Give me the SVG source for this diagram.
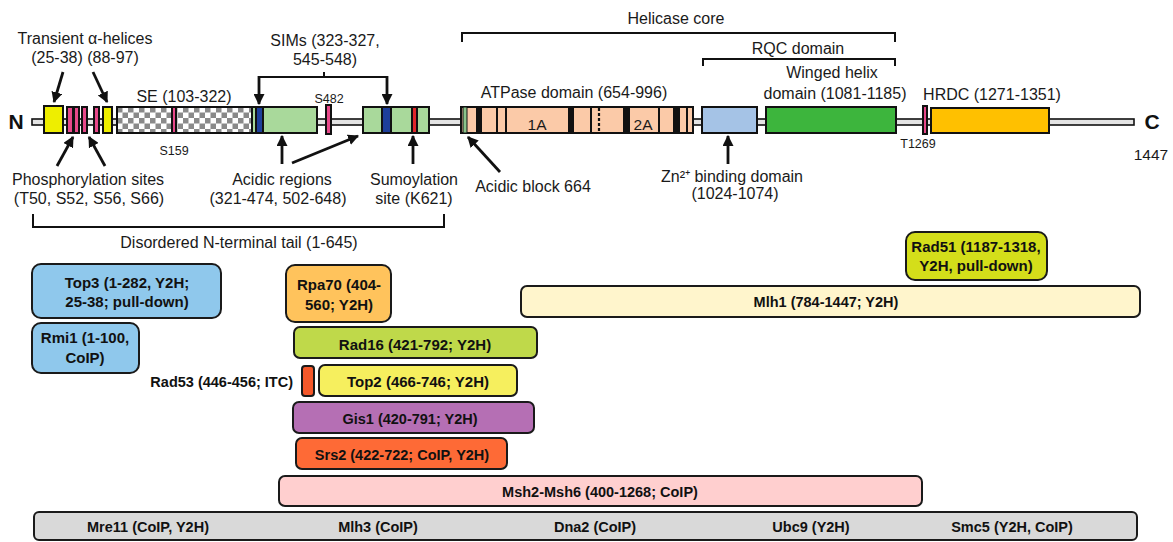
<svg xmlns="http://www.w3.org/2000/svg" width="1173" height="542" viewBox="0 0 1173 542">
<defs>
<style>
.lbl{font-family:"Liberation Sans",Arial,sans-serif;font-size:16px;fill:#1a1a1a;text-anchor:middle}
.sm{font-family:"Liberation Sans",Arial,sans-serif;font-size:12.5px;fill:#1a1a1a;text-anchor:middle}
.bl{font-family:"Liberation Sans",Arial,sans-serif;font-size:14.5px;font-weight:bold;fill:#111;text-anchor:middle}
.bl2{font-family:"Liberation Sans",Arial,sans-serif;font-size:15px;font-weight:bold;fill:#111;text-anchor:middle}
.term{font-family:"Liberation Sans",Arial,sans-serif;font-size:21px;font-weight:bold;fill:#111;text-anchor:middle}
.dom{stroke:#111;stroke-width:2}
.box{stroke:#1a1a1a;stroke-width:2}
.arr{stroke:#111;stroke-width:2.8;fill:none;marker-end:url(#ah)}
.brk{stroke:#111;stroke-width:2;fill:none}
.bar{fill:#111}
.thin{stroke:#111;stroke-width:2}
</style>
<marker id="ah" viewBox="0 0 10 10" refX="9" refY="5" markerWidth="11" markerHeight="11" markerUnits="userSpaceOnUse" orient="auto">
<path d="M0,0 L10,5 L0,10 z" fill="#111"/>
</marker>
<pattern id="chk" x="117" y="107" width="11" height="11" patternUnits="userSpaceOnUse">
<rect width="11" height="11" fill="#fff"/>
<rect width="5.5" height="5.5" fill="#8a8a8a"/>
<rect x="5.5" y="5.5" width="5.5" height="5.5" fill="#8a8a8a"/>
</pattern>
</defs>
<rect width="1173" height="542" fill="#fff"/>

<g id="backbone">
<rect x="32" y="119" width="1102" height="6" fill="#e4e4e4" stroke="#111" stroke-width="1.6"/>
<text class="term" x="16" y="129">N</text>
<text class="term" x="1152" y="129">C</text>
<text class="lbl" x="1151" y="160" style="font-size:15.5px">1447</text>
</g>

<g id="helix1"><rect class="dom" x="44" y="106" width="19" height="27" fill="#eeee00"/></g>
<g id="phospho-sites">
<rect class="dom" x="67" y="107" width="6" height="26" fill="#e8488a"/>
<rect class="dom" x="74" y="107" width="5" height="26" fill="#e8488a"/>
<rect class="dom" x="82" y="107" width="5" height="26" fill="#e8488a"/>
<rect class="dom" x="94" y="107" width="5" height="26" fill="#e8488a"/>
</g>
<g id="helix2"><rect class="dom" x="103" y="107" width="9" height="26" fill="#eeee00"/></g>

<g id="se-domain">
<rect class="dom" x="117" y="107" width="135" height="26" fill="url(#chk)"/>
<rect class="dom" x="172" y="107" width="4" height="26" fill="#e8488a" stroke-width="1.2"/>
<text class="lbl" x="184" y="102">SE (103-322)</text>
<text class="sm" x="174" y="155">S159</text>
</g>

<g id="acidic1">
<rect class="dom" x="252" y="107" width="65" height="26" fill="#a9d99b"/>
<rect class="dom" x="256" y="107" width="7" height="26" fill="#1d3f9a" stroke-width="1.2"/>
</g>
<g id="s482">
<rect class="dom" x="326" y="105" width="5" height="29" fill="#e8488a" stroke-width="1.5"/>
<text class="sm" x="329" y="103">S482</text>
</g>
<g id="acidic2">
<rect class="dom" x="363" y="107" width="66" height="26" fill="#a9d99b"/>
<rect class="dom" x="382" y="107" width="9" height="26" fill="#1d3f9a" stroke-width="1.2"/>
<rect class="dom" x="412" y="107" width="5" height="26" fill="#e0282a" stroke-width="1.2"/>
</g>

<g id="atpase">
<rect class="dom" x="461" y="107" width="232" height="26" fill="#fbcaa8"/>
<rect x="463" y="107" width="4" height="26" fill="#8bc48a" stroke="#111" stroke-width="1"/>
<rect class="bar" x="476" y="107" width="6" height="26"/>
<rect class="bar" x="568" y="107" width="6" height="26"/>
<rect class="bar" x="623" y="107" width="7" height="26"/>
<rect class="bar" x="673" y="107" width="7" height="26"/>
<line class="thin" x1="497" y1="107" x2="497" y2="133"/>
<line class="thin" x1="506" y1="107" x2="506" y2="133"/>
<line class="thin" x1="591" y1="107" x2="591" y2="133"/>
<line class="thin" x1="659" y1="107" x2="659" y2="133"/>
<line class="thin" x1="687" y1="107" x2="687" y2="133"/>
<line x1="599" y1="108" x2="599" y2="133" stroke="#111" stroke-width="2.2" stroke-dasharray="3,2"/>
<text class="lbl" x="537" y="130" style="font-size:15.5px">1A</text>
<text class="lbl" x="643" y="130" style="font-size:15.5px">2A</text>
<text class="lbl" x="574" y="98">ATPase domain (654-996)</text>
</g>

<g id="zn-domain">
<rect class="dom" x="702" y="107" width="55" height="26" fill="#a5c3e6"/>
<text class="lbl" x="732" y="182">Zn²⁺ binding domain</text>
<text class="lbl" x="735" y="199">(1024-1074)</text>
</g>
<g id="winged-helix">
<rect class="dom" x="766" y="107" width="130" height="26" fill="#3db53d"/>
<text class="lbl" x="832" y="78">Winged helix</text>
<text class="lbl" x="835" y="99">domain (1081-1185)</text>
</g>
<g id="t1269">
<rect class="dom" x="923" y="106" width="4" height="28" fill="#e8488a" stroke-width="1.5"/>
<text class="sm" x="918" y="148">T1269</text>
</g>
<g id="hrdc">
<rect class="dom" x="931" y="108" width="118" height="25" fill="#ffc000"/>
<text class="lbl" x="992" y="100">HRDC (1271-1351)</text>
</g>

<g id="labels">
<text class="lbl" x="85" y="44">Transient α-helices</text>
<text class="lbl" x="85" y="63">(25-38) (88-97)</text>
<text class="lbl" x="88" y="185">Phosphorylation sites</text>
<text class="lbl" x="89" y="204">(T50, S52, S56, S66)</text>
<text class="lbl" x="325" y="46">SIMs (323-327,</text>
<text class="lbl" x="325" y="65">545-548)</text>
<text class="lbl" x="282" y="185">Acidic regions</text>
<text class="lbl" x="278" y="204">(321-474, 502-648)</text>
<text class="lbl" x="414" y="185">Sumoylation</text>
<text class="lbl" x="414" y="204">site (K621)</text>
<text class="lbl" x="533" y="192">Acidic block 664</text>
<text class="lbl" x="676" y="24">Helicase core</text>
<text class="lbl" x="798" y="54">RQC domain</text>
<text class="lbl" x="239" y="248">Disordered N-terminal tail (1-645)</text>
</g>

<g id="connectors">
<line class="arr" x1="63" y1="72" x2="54" y2="102"/>
<line class="arr" x1="93" y1="72" x2="107" y2="102"/>
<line class="arr" x1="57" y1="166" x2="73" y2="137"/>
<line class="arr" x1="105" y1="166" x2="89" y2="137"/>
<path class="brk" d="M259,77 H387 M324,77 V72"/>
<line class="arr" x1="259" y1="76" x2="259" y2="104"/>
<line class="arr" x1="387" y1="76" x2="387" y2="104"/>
<line class="arr" x1="282" y1="164" x2="282" y2="136"/>
<line class="arr" x1="292" y1="163" x2="358" y2="136"/>
<line class="arr" x1="413" y1="164" x2="413" y2="136"/>
<line class="arr" x1="500" y1="172" x2="468" y2="137"/>
<line class="arr" x1="728" y1="164" x2="728" y2="136"/>
<path class="brk" d="M462,42 V33 H895 V42"/>
<path class="brk" d="M703,66 V59 H895 V66"/>
<path class="brk" d="M33,214 V227 H444 V214"/>
</g>

<g id="top3"><rect class="box" x="32" y="264" width="189" height="54" rx="9" fill="#8fc8ec"/>
<text class="bl2" x="127" y="288">Top3 (1-282, Y2H;</text><text class="bl2" x="127" y="307">25-38; pull-down)</text></g>
<g id="rmi1"><rect class="box" x="32" y="323" width="107" height="50" rx="9" fill="#8fc8ec"/>
<text class="bl2" x="85" y="343">Rmi1 (1-100,</text><text class="bl2" x="85" y="363">CoIP)</text></g>
<g id="rpa70"><rect class="box" x="286" y="265" width="105" height="57" rx="9" fill="#ffc35c"/>
<text class="bl2" x="339" y="290">Rpa70 (404-</text><text class="bl2" x="339" y="310">560; Y2H)</text></g>
<g id="rad51"><rect class="box" x="906" y="232" width="141" height="48" rx="9" fill="#d4de1a"/>
<text class="bl2" x="976" y="252">Rad51 (1187-1318,</text><text class="bl2" x="976" y="271">Y2H, pull-down)</text></g>
<g id="mlh1"><rect class="box" x="521" y="286" width="619" height="31" rx="6" fill="#fff5cc"/>
<text class="bl" x="826" y="307">Mlh1 (784-1447; Y2H)</text></g>
<g id="rad16"><rect class="box" x="294" y="327" width="243" height="31" rx="6" fill="#bfd94a"/>
<text class="bl2" x="415" y="350">Rad16 (421-792; Y2H)</text></g>
<g id="rad53"><rect class="box" x="302" y="366" width="12" height="30" rx="3" fill="#f5582a"/>
<text class="bl" x="293" y="387" style="text-anchor:end">Rad53 (446-456; ITC)</text></g>
<g id="top2"><rect class="box" x="319" y="365" width="198" height="31" rx="6" fill="#f6ef5e"/>
<text class="bl2" x="418" y="387">Top2 (466-746; Y2H)</text></g>
<g id="gis1"><rect class="box" x="293" y="402" width="241" height="31" rx="6" fill="#b56fb4"/>
<text class="bl" x="410" y="424">Gis1 (420-791; Y2H)</text></g>
<g id="srs2"><rect class="box" x="296" y="438" width="211" height="31" rx="6" fill="#fe6a36"/>
<text class="bl" x="402" y="460">Srs2 (422-722; CoIP, Y2H)</text></g>
<g id="msh2-msh6"><rect class="box" x="279" y="476" width="643" height="30" rx="6" fill="#ffcfcf"/>
<text class="bl" x="600" y="497">Msh2-Msh6 (400-1268; CoIP)</text></g>
<g id="full-length"><rect class="box" x="34" y="512" width="1103" height="28" rx="5" fill="#d9d9d9"/>
<text class="bl" x="148" y="532">Mre11 (CoIP, Y2H)</text>
<text class="bl" x="378" y="532">Mlh3 (CoIP)</text>
<text class="bl" x="595" y="532">Dna2 (CoIP)</text>
<text class="bl" x="811" y="532">Ubc9 (Y2H)</text>
<text class="bl" x="1012" y="532">Smc5 (Y2H, CoIP)</text>
</g>
</svg>
